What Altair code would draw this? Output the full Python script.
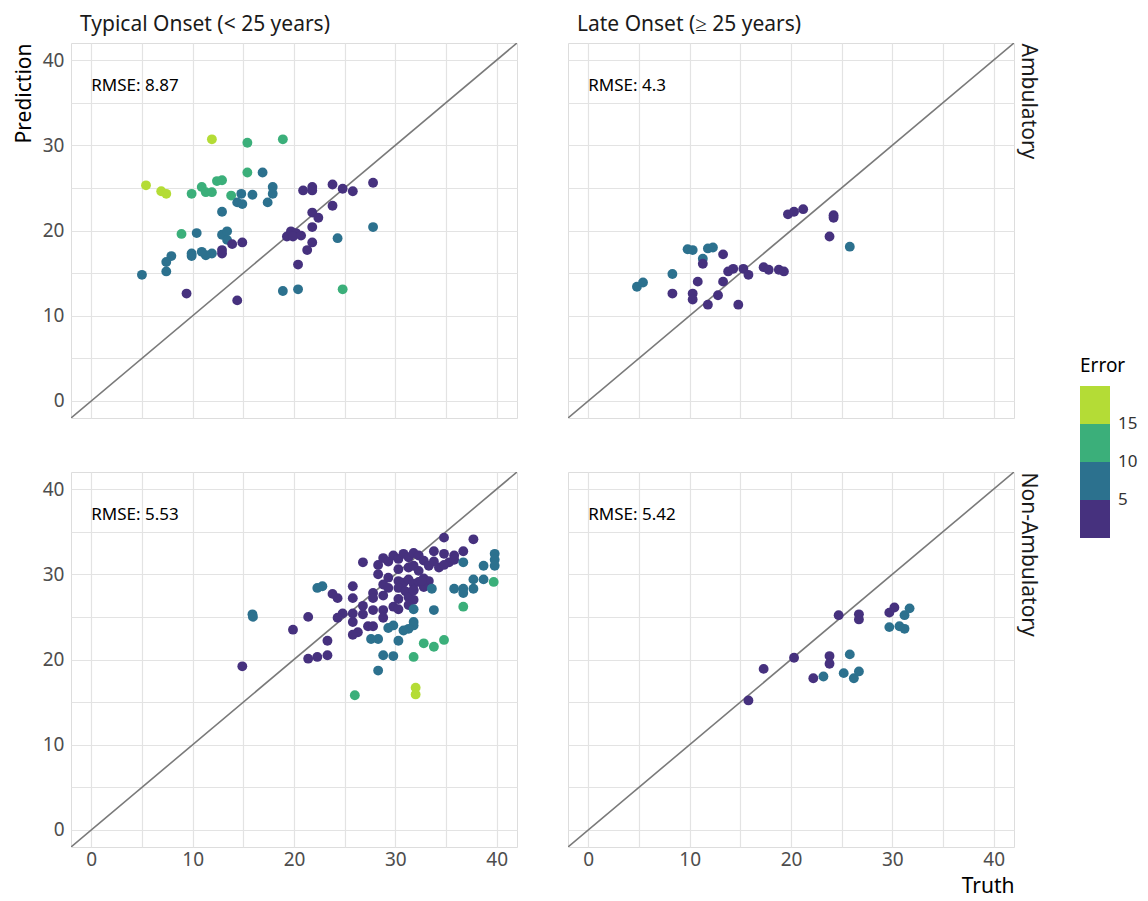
import altair as alt
import pandas as pd

# ---------------- data (truth, prediction) per panel ----------------
# Typical Onset (< 25 years), Ambulatory
TA_truth = [11.9, 5.4, 6.9, 7.4, 15.4, 18.9, 15.4, 9.9, 10.9, 11.3, 11.9, 12.4, 12.9, 13.8,
            8.9, 24.8, 16.9, 14.8, 15.9, 17.9, 17.9, 17.4, 14.4, 14.9, 12.9, 10.4, 12.9, 13.4,
            13.4, 11.9, 11.3, 10.9, 9.9, 9.9, 7.9, 7.4, 7.4, 5.0, 18.9, 20.4, 27.8, 24.3,
            13.9, 14.9, 12.9, 12.9, 9.4, 14.4, 20.9, 21.8, 21.8, 23.8, 24.8, 25.8, 27.8, 23.8,
            21.8, 22.4, 21.8, 19.3, 19.7, 20.2, 19.9, 20.7, 21.8, 21.3, 20.4]
TA_pred = [30.7, 25.3, 24.6, 24.3, 30.3, 30.7, 26.8, 24.3, 25.1, 24.5, 24.5, 25.8, 25.9, 24.1,
           19.6, 13.1, 26.8, 24.3, 24.2, 25.1, 24.3, 23.3, 23.3, 23.1, 22.2, 19.7, 19.5, 19.9,
           18.9, 17.3, 17.1, 17.5, 17.3, 17.0, 17.0, 16.3, 15.2, 14.8, 12.9, 13.1, 20.4, 19.1,
           18.4, 18.6, 17.7, 17.3, 12.6, 11.8, 24.7, 25.1, 24.7, 25.4, 24.9, 24.6, 25.6, 22.9,
           22.1, 21.5, 20.4, 19.3, 19.9, 19.7, 19.3, 19.4, 18.6, 17.7, 16.0]

# Late Onset (>= 25 years), Ambulatory
LA_truth = [4.8, 5.4, 8.3, 8.3, 9.8, 10.3, 10.3, 10.3, 10.8, 11.3, 11.3, 11.8, 12.3, 11.8,
            12.8, 13.3, 13.3, 13.8, 14.3, 14.8, 15.3, 15.8, 17.3, 17.8, 18.8, 19.3, 19.7, 20.3,
            21.2, 23.8, 24.2, 24.2, 25.8]
LA_pred = [13.4, 13.9, 14.9, 12.6, 17.8, 17.7, 12.6, 11.9, 14.0, 16.7, 16.1, 17.9, 18.0, 11.3,
           12.4, 17.2, 14.0, 15.2, 15.5, 11.3, 15.5, 14.8, 15.7, 15.4, 15.4, 15.2, 21.9, 22.2,
           22.5, 19.3, 21.8, 21.5, 18.1]

# Typical Onset (< 25 years), Non-Ambulatory
TN_truth = [26.8, 28.3, 28.8, 29.3, 29.8, 30.3, 30.8, 31.3, 31.8, 32.3, 32.8, 33.8, 34.8, 34.8,
            35.8, 36.7, 37.7, 30.3, 31.3, 31.8, 32.3, 33.3, 34.3, 35.3, 29.3, 30.3, 30.8, 31.3,
            31.8, 32.3, 32.8, 33.3, 28.3, 28.8, 29.3, 30.3, 31.0, 31.8, 32.8, 30.3, 31.3, 31.8,
            29.8, 30.3, 31.3, 28.8, 28.8, 28.8, 27.8, 27.8, 27.8, 27.3, 27.8, 26.8, 26.8, 26.3,
            25.8, 25.8, 25.8, 25.8, 25.8, 24.8, 24.3, 24.3, 23.8, 23.3, 23.3, 22.3, 21.4, 21.4,
            19.9, 14.9, 34.8, 35.8, 33.8, 32.6, 31.8,
            39.8, 39.8, 38.7, 39.8, 36.7, 36.7, 36.7, 37.7, 37.7, 38.7, 35.8, 33.6, 33.8, 31.8,
            31.8, 31.8, 31.3, 30.8, 30.3, 29.8, 29.3, 29.8, 28.8, 28.3, 28.3, 27.6, 22.8, 22.3,
            15.9, 15.95,
            39.7, 36.7, 34.8, 33.8, 32.8, 31.8, 26.0, 32.0, 32.0]
TN_pred = [31.4, 31.1, 31.9, 31.5, 32.2, 31.8, 32.4, 32.0, 32.5, 32.2, 31.6, 32.7, 34.3, 32.4,
           32.2, 32.7, 34.1, 30.6, 30.8, 31.0, 30.4, 31.0, 30.8, 31.4, 29.6, 29.2, 29.0, 29.4,
           28.9, 29.1, 29.5, 29.2, 30.0, 28.8, 28.4, 28.4, 28.0, 28.2, 28.5, 27.1, 27.3, 27.0,
           26.2, 25.9, 26.4, 27.5, 25.8, 24.9, 27.8, 27.2, 25.8, 23.9, 23.9, 26.3, 25.3, 23.2,
           28.6, 27.2, 25.4, 24.4, 22.9, 25.4, 27.2, 24.9, 27.7, 22.2, 20.5, 20.3, 20.1, 25.0,
           23.5, 19.2, 31.1, 31.7, 31.5, 29.2, 28.1,
           32.4, 31.7, 31.0, 31.0, 31.4, 28.3, 27.8, 28.3, 29.4, 29.4, 28.3, 28.3, 25.8, 25.9,
           24.4, 24.0, 23.6, 23.4, 22.2, 24.0, 23.7, 20.4, 20.5, 18.7, 22.4, 22.4, 28.6, 28.4,
           25.3, 25.0,
           29.1, 26.2, 22.3, 21.5, 21.9, 20.3, 15.8, 16.7, 15.9]

# Late Onset (>= 25 years), Non-Ambulatory
LN_truth = [15.8, 17.3, 20.3, 22.2, 23.2, 23.8, 23.8, 24.7, 25.2, 25.8, 26.2, 26.7, 26.7, 26.7,
            29.7, 30.2, 29.7, 30.7, 31.2, 31.2, 31.7]
LN_pred = [15.2, 18.9, 20.2, 17.8, 18.0, 20.4, 19.5, 25.2, 18.4, 20.6, 17.8, 18.6, 25.3, 24.7,
           25.5, 26.1, 23.8, 23.9, 23.6, 25.2, 26.0]

COL_TITLES = ["Typical Onset (< 25 years)", "Late Onset (\u2265 25 years)"]
ROW_TITLES = ["Ambulatory", "Non-Ambulatory"]
RMSE = ["RMSE: 8.87", "RMSE: 4.3", "RMSE: 5.53", "RMSE: 5.42"]
RMSE_POS = (0, 37)
DIAG = [-2, 42]
TICKS = [0, 5, 10, 15, 20, 25, 30, 35, 40]
ERR_BREAKS = [5, 10, 15]
ERR_COLORS = ["#46317E", "#2C718E", "#3BAF7A", "#B4DC36"]

FONT = "Noto Sans"
W, H = 446, 375

def make_df(truth, pred):
    df = pd.DataFrame({"Truth": truth, "Prediction": pred})
    df["Error"] = (df["Prediction"] - df["Truth"]).abs()
    return df

xs = alt.Scale(domain=[-2, 42], nice=False, zero=False)
ys = alt.Scale(domain=[-2, 42], nice=False, zero=False)
cscale = alt.Scale(type="threshold", domain=ERR_BREAKS, range=ERR_COLORS)
legend = alt.Legend(title="Error", type="gradient", orient="none", legendX=1009, legendY=314,
                    direction="vertical", gradientLength=152, gradientThickness=30,
                    gradientStrokeWidth=0, labelFontSize=17, labelColor="#333333",
                    labelOffset=8, titleFontSize=19, titleFontWeight="normal",
                    titleColor="#000000", titlePadding=10, labelFont=FONT, titleFont=FONT)

LABEL_EXPR = "datum.value % 10 === 0 ? datum.label : ''"
common_axis = dict(values=TICKS, grid=True, gridColor="#E3E3E3", gridWidth=1.2, ticks=False,
                   tickSize=0, domain=False, labelFont=FONT, titleFont=FONT,
                   labelColor="#4D4D4D", labelFontSize=19, titleFontSize=21,
                   titleFontWeight="normal", labelExpr=LABEL_EXPR)

def panel(truth, pred, rmse, row, col):
    bottom = row == 1
    left = col == 0
    if bottom:
        xa = alt.Axis(labels=True, labelPadding=3,
                      title=("Truth" if col == 1 else None), titleAnchor="end", titlePadding=6,
                      titleColor="#000000", **common_axis)
    else:
        xa = alt.Axis(labels=False, title=None, **common_axis)
    if left:
        ya = alt.Axis(labels=True, labelPadding=7, orient="left",
                      title=("Prediction" if row == 0 else None), titleAnchor="end",
                      titlePadding=8, titleColor="#000000", **common_axis)
    else:
        ya = alt.Axis(labels=False, orient="right", title=ROW_TITLES[row], titleAnchor="end",
                      titleAlign="left", titleAngle=90, titlePadding=3, titleColor="#1A1A1A",
                      **common_axis)
    X = alt.X("Truth:Q", scale=xs, axis=xa)
    Y = alt.Y("Prediction:Q", scale=ys, axis=ya)

    df = make_df(truth, pred)
    line_df = pd.DataFrame({"Truth": DIAG, "Prediction": DIAG})
    text_df = pd.DataFrame({"Truth": [RMSE_POS[0]], "Prediction": [RMSE_POS[1]], "label": [rmse]})

    line = alt.Chart(line_df).mark_line(color="#7A7A7A", strokeWidth=1.6, clip=True).encode(x=X, y=Y)
    pts = alt.Chart(df).mark_circle(size=97, opacity=1).encode(
        x=X, y=Y, color=alt.Color("Error:Q", scale=cscale, legend=legend))
    txt = alt.Chart(text_df).mark_text(align="left", baseline="middle", fontSize=17,
                                       font=FONT, color="#000000").encode(x=X, y=Y, text="label:N")
    ch = alt.layer(line, pts, txt).properties(width=W, height=H)
    if row == 0:
        ch = ch.properties(title=alt.TitleParams(COL_TITLES[col], anchor="start", frame="group",
                                                 fontSize=21, fontWeight="normal", font=FONT,
                                                 color="#1A1A1A", offset=8, dx=9))
    return ch

top = alt.hconcat(panel(TA_truth, TA_pred, RMSE[0], 0, 0),
                  panel(LA_truth, LA_pred, RMSE[1], 0, 1), spacing=49)
bot = alt.hconcat(panel(TN_truth, TN_pred, RMSE[2], 1, 0),
                  panel(LN_truth, LN_pred, RMSE[3], 1, 1), spacing=49)

chart = alt.vconcat(top, bot, spacing=52).properties(
    padding={"left": 4, "top": 5, "right": 0, "bottom": 0}
).configure_view(stroke=None).configure(background="white", font=FONT)

chart.save("out.html", embed_options={"renderer": "svg", "actions": False})
